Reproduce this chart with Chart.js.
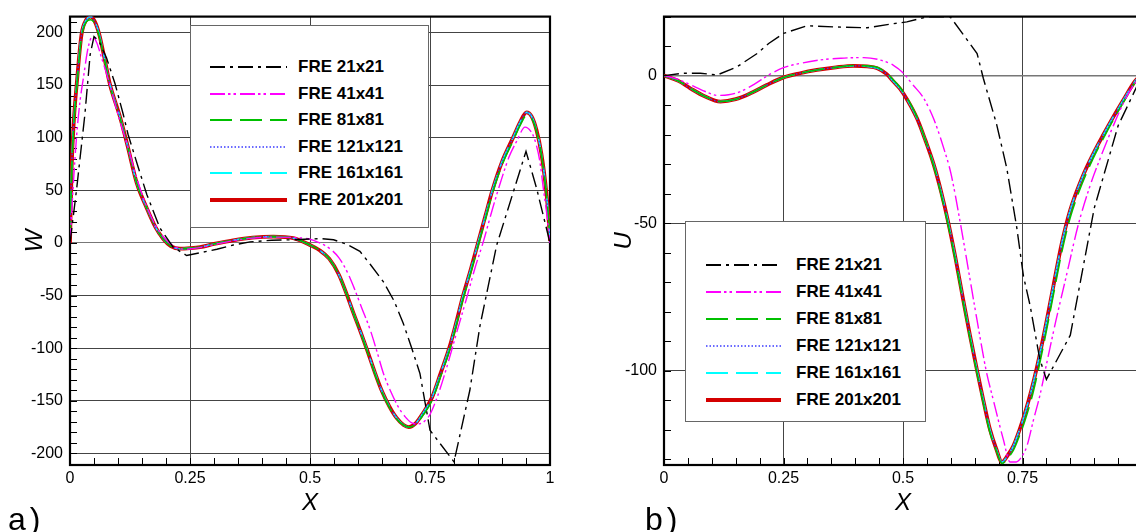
<!DOCTYPE html>
<html>
<head>
<meta charset="utf-8">
<script src="https://cdn.jsdelivr.net/npm/chart.js@4.4.1/dist/chart.umd.min.js"></script>
<style>
  body { margin: 0; width: 1136px; height: 532px; overflow: hidden; background: #fff; position: relative;
         font-family: "Liberation Sans", Arial, sans-serif; }
  canvas { position: absolute; top: 0; }
  #chartA { left: 0; }
  #chartB { left: 580px; }
  .legend { position: absolute; background: #fff; border: 1px solid #666; box-sizing: border-box; }
  .legend span { position: absolute; font-weight: bold; font-size: 17px; line-height: 20px; white-space: nowrap; color: #000; }
  .legend svg { position: absolute; }
  .tag { position: absolute; font-size: 32px; line-height: 32px; letter-spacing: 4px; color: #000; }
</style>
</head>
<body>
<canvas id="chartA" width="560" height="532"></canvas>
<canvas id="chartB" width="580" height="532"></canvas>
<div class="legend" id="legendA" style="left:190px;top:25px;width:239px;height:203px"></div>
<div class="legend" id="legendB" style="left:685px;top:221px;width:241px;height:201px"></div>
<div class="tag" style="left:8px;top:503px">a)</div>
<div class="tag" style="left:645px;top:503px">b)</div>
<script>
// === Series labels and styles ===
const seriesLabels = ["FRE 21x21", "FRE 41x41", "FRE 81x81", "FRE 121x121", "FRE 161x161", "FRE 201x201"];
const seriesColors = ["#000000", "#ff00ff", "#00c000", "#3a3aff", "#00ffff", "#d40000"];
const seriesWidths = [1.4, 1.4, 1.6, 1.3, 1.6, 3.8];
const seriesDashes = [[15, 5, 3, 5], [15, 3, 2.5, 3, 2.5, 4], [22, 8], [1.5, 2], [22, 8], []];

// === Tick values ===
const xTicks = [0, 0.25, 0.5, 0.75, 1];
const aYTicks = [-200, -150, -100, -50, 0, 50, 100, 150, 200];
const bYTicks = [-100, -50, 0];

// === Panel a) : W along x ===
const aX21 = [0, 0.014, 0.031, 0.042, 0.05, 0.06, 0.076, 0.094, 0.111, 0.121, 0.14, 0.16, 0.1875, 0.215, 0.243, 0.275,
  0.306, 0.34, 0.375, 0.42, 0.465, 0.5, 0.525, 0.549, 0.575, 0.604, 0.625, 0.653, 0.675, 0.694, 0.712, 0.729, 0.75,
  0.8, 0.833, 0.854, 0.889, 0.924, 0.95, 0.972, 1];
const aW21 = [0, 52, 122, 179, 196, 192, 176, 151, 122, 103, 75, 46, 14, -4, -12, -9,
  -6, -2, 1, 2.5, 3, 3.8, 4, 3, -1, -8, -20, -37, -55, -76, -100, -124, -178,
  -208, -140, -79, -2, 49, 87, 52, 0];

const aX41 = [0, 0.007, 0.014, 0.021, 0.028, 0.038, 0.047, 0.056, 0.065, 0.08, 0.1, 0.12, 0.14, 0.16, 0.18, 0.2,
  0.22, 0.24, 0.27, 0.3, 0.34, 0.38, 0.43, 0.47, 0.5, 0.52, 0.54, 0.56, 0.578, 0.593, 0.608, 0.625, 0.64, 0.653,
  0.668, 0.683, 0.698, 0.712, 0.724, 0.737, 0.75, 0.767, 0.785, 0.805, 0.826, 0.843, 0.861, 0.88, 0.9, 0.915,
  0.931, 0.948, 0.96, 0.969, 0.979, 0.986, 0.994, 1];
const aW41 = [0, 56, 103, 135, 157, 186, 196, 190, 177, 155, 122, 92, 60, 34, 15, 3,
  -4, -6, -4.5, -1.5, 2, 4.5, 5.5, 5, 3.5, 0, -5, -14, -28, -44, -62, -82, -104, -124,
  -141, -155, -165, -171, -172, -170, -163, -144, -118, -86, -53, -25, 1, 32, 62, 82,
  97, 110, 106, 97, 77, 52, 25, 0];

const aX201 = [0, 0.0035, 0.008, 0.014, 0.024, 0.034, 0.043, 0.052, 0.061, 0.072, 0.083, 0.104, 0.12, 0.139, 0.16,
  0.178, 0.194, 0.21, 0.229, 0.25, 0.271, 0.3, 0.34, 0.38, 0.424, 0.465, 0.5, 0.52, 0.54, 0.56, 0.575, 0.59, 0.605,
  0.62, 0.635, 0.65, 0.665, 0.68, 0.695, 0.706, 0.72, 0.735, 0.754, 0.772, 0.79, 0.805, 0.819, 0.835, 0.85, 0.865,
  0.88, 0.9, 0.923, 0.938, 0.951, 0.962, 0.972, 0.982, 0.99, 0.996, 1];
const aW201 = [0, 72, 116, 151, 198, 212, 215, 210, 198, 175, 151, 120, 92, 57, 33,
  15, 4, -3, -5.5, -5, -4, -1, 2.5, 5, 6, 4.5, -2, -7, -15, -30, -47, -66, -84,
  -103, -123, -141, -155, -166, -173, -175, -171.5, -162, -147, -124, -100, -75, -50, -25, 0, 25,
  50, 77, 100, 115, 124, 120, 107, 85, 58, 30, 2];
const aW81 = [0, 68, 112, 148, 195, 210, 212, 208, 196, 174, 150, 119, 92, 57, 33,
  15, 4, -3, -5.5, -5, -4, -1, 2.5, 5, 6, 4.5, -2, -7, -15, -30, -47, -66, -85,
  -104, -124, -142, -156, -167, -173, -175, -172.5, -164, -150, -127, -103, -78, -53, -28, -3, 22,
  47, 74, 97, 112, 121, 118, 106, 84, 57, 29, 2];
// 121x121 and 161x161 lie under the 201x201 curve
const aW121 = aW201;
const aW161 = aW201;

// === Panel b) : U along x ===
const bX21 = [0, 0.041, 0.076, 0.111, 0.153, 0.195, 0.219, 0.25, 0.299, 0.355, 0.425, 0.48, 0.508, 0.55, 0.599,
  0.627, 0.655, 0.668, 0.696, 0.717, 0.738, 0.752, 0.766, 0.776, 0.786, 0.8, 0.85, 0.9, 0.95, 1];
const bU21 = [0, 0.8, 0.8, 0.2, 3, 7.5, 10.9, 14.3, 16.9, 16.5, 16.2, 17.6, 18.2, 19.9, 19.9,
  13.7, 7.5, -0.9, -16.6, -31.3, -51.5, -68, -78, -87, -96, -103, -88, -45, -17, 0];

const bX41 = [0, 0.03, 0.055, 0.085, 0.111, 0.135, 0.16, 0.19, 0.219, 0.25, 0.29, 0.327, 0.37, 0.418, 0.452,
  0.48, 0.501, 0.52, 0.543, 0.565, 0.585, 0.6, 0.62, 0.637, 0.655, 0.674, 0.689, 0.71, 0.724, 0.737, 0.749,
  0.759, 0.773, 0.787, 0.8, 0.82, 0.843, 0.866, 0.89, 0.915, 0.94, 0.962, 0.985, 1];
const bU41 = [0, -1.3, -3.1, -5.3, -6.7, -6.5, -5.4, -2.8, 0.2, 2.7, 4.3, 5.3, 5.9, 6.1, 5.3,
  3.5, 0.8, -3, -7.6, -15, -24.5, -33, -50, -66, -83, -100, -110, -123.4, -131, -131, -129,
  -125.7, -116.7, -108, -98, -83, -67, -51, -38, -27, -17, -9, -2.6, 0];

const bX201 = [0, 0.03, 0.055, 0.085, 0.118, 0.15, 0.181, 0.215, 0.249, 0.285, 0.32, 0.36, 0.396, 0.425, 0.446,
  0.466, 0.48, 0.494, 0.51, 0.529, 0.547, 0.564, 0.58, 0.595, 0.61, 0.626, 0.64, 0.655, 0.668, 0.682, 0.695,
  0.707, 0.72, 0.731, 0.745, 0.755, 0.768, 0.78, 0.797, 0.815, 0.832, 0.85, 0.875, 0.898, 0.92, 0.94, 0.962,
  0.985, 1];
const bU201 = [0, -1.8, -4.3, -7, -8.8, -8, -6, -3.2, -0.7, 0.8, 1.9, 2.8, 3.3, 3.1, 2.5,
  0.5, -2, -4.5, -8.5, -14.4, -22, -30, -39.5, -50, -62, -76, -88, -100, -110, -120, -126.5,
  -131, -128.5, -125.5, -119.5, -114.5, -107, -99, -86, -71, -57, -45.5, -34.5, -26.5, -19.8, -14, -8,
  -2, 0.5];
const bU81 = [0, -1.8, -4.3, -7, -8.8, -8, -6, -3.2, -0.7, 0.8, 1.9, 2.8, 3.4, 3.3, 2.8,
  0.8, -1.5, -4, -8, -14, -22, -30.5, -40.5, -51, -63, -77, -89, -101, -111, -121, -127,
  -131.5, -129.5, -127, -121.5, -117, -110, -102, -89, -74, -60, -48, -36.5, -28, -21, -15, -8.8,
  -2.5, 0];
const bU121 = bU201;
const bU161 = bU201;

// axis ranges
const aYMin = -211, aYMax = 215;
const bYMin = -132, bYMax = 20;

Chart.defaults.font.family = "'Liberation Sans', Arial, sans-serif";
Chart.defaults.color = "#000";

function zip(xs, ys) {
    return xs.map((x, i) => ({ x: x, y: ys[i] }));
}

function makeDatasets(pairs) {
    return pairs.map((p, i) => ({
        label: seriesLabels[i],
        data: zip(p[0], p[1]),
        borderColor: seriesColors[i],
        borderWidth: seriesWidths[i],
        borderDash: seriesDashes[i],
        pointRadius: 0,
        fill: false,
        tension: 0,
        cubicInterpolationMode: i === 0 ? "default" : "monotone"
    }));
}

// frame round the plot plus small inward ticks
const framePlugin = {
    id: "frame",
    beforeDatasetsDraw(chart, args, o) {
        const { ctx, chartArea: a, scales: { x, y } } = chart;
        ctx.save();
        ctx.strokeStyle = "#000";
        ctx.lineWidth = 1;
        ctx.beginPath();
        const y0 = Math.ceil(y.min / o.yStep);
        for (let i = y0; i * o.yStep <= y.max; i++) {
            const py = Math.round(y.getPixelForValue(i * o.yStep)) + 0.5;
            ctx.moveTo(a.left, py);
            ctx.lineTo(a.left + o.len, py);
        }
        for (let i = 0; i * o.xStep <= x.max + 1e-9; i++) {
            const px = Math.round(x.getPixelForValue(i * o.xStep)) + 0.5;
            ctx.moveTo(px, a.bottom);
            ctx.lineTo(px, a.bottom - o.len);
        }
        ctx.stroke();
        ctx.lineWidth = 2.2;
        ctx.strokeRect(a.left, a.top, a.right - a.left, a.bottom - a.top);
        ctx.restore();
    }
};

function makeChart(canvasId, datasets, cfg) {
    return new Chart(document.getElementById(canvasId), {
        type: "line",
        data: { datasets: datasets },
        plugins: [framePlugin],
        options: {
            responsive: false,
            animation: false,
            events: [],
            layout: { padding: { top: 15, right: cfg.padRight, left: 0, bottom: 0 } },
            plugins: {
                legend: { display: false },
                tooltip: { enabled: false },
                frame: { xStep: 0.05, yStep: 10, len: 7 }
            },
            scales: {
                x: {
                    type: "linear",
                    min: 0,
                    max: 1,
                    afterFit: s => { s.height = 67; },
                    afterBuildTicks: s => { s.ticks = xTicks.map(v => ({ value: v })); },
                    ticks: { padding: 4, font: { size: 16 }, color: "#000", maxRotation: 0, autoSkip: false,
                             callback: v => String(v) },
                    grid: { color: "#444", lineWidth: 1, drawTicks: false },
                    border: { display: false },
                    title: { display: true, text: "X", font: { size: 24, style: "italic" }, padding: { top: 0, bottom: 14.6 } }
                },
                y: {
                    min: cfg.yMin,
                    max: cfg.yMax,
                    afterFit: s => { s.width = cfg.yWidth; },
                    afterBuildTicks: s => { s.ticks = cfg.yTicks.map(v => ({ value: v })); },
                    ticks: { padding: 7, font: { size: 16 }, color: "#000", autoSkip: false, callback: v => String(v) },
                    grid: {
                        color: c => (c.tick && c.tick.value === 0 ? "#777" : "#444"),
                        lineWidth: c => (c.tick && c.tick.value === 0 ? cfg.zeroWidth : 1),
                        drawTicks: false
                    },
                    border: { display: false },
                    title: { display: true, text: cfg.yTitle, font: { size: 24, style: "italic" }, padding: { top: cfg.titlePad, bottom: 0 } }
                }
            }
        }
    });
}

makeChart("chartA", makeDatasets([
    [aX21, aW21], [aX41, aW41], [aX201, aW81], [aX201, aW121], [aX201, aW161], [aX201, aW201]
]), { yMin: aYMin, yMax: aYMax, yTicks: aYTicks, yWidth: 70, padRight: 10, yTitle: "W", titlePad: 20.6, zeroWidth: 1 });

makeChart("chartB", makeDatasets([
    [bX21, bU21], [bX41, bU41], [bX201, bU81], [bX201, bU121], [bX201, bU161], [bX201, bU201]
]), { yMin: bYMin, yMax: bYMax, yTicks: bYTicks, yWidth: 84, padRight: 18, yTitle: "U", titlePad: 29.6, zeroWidth: 1.6 });

// legends inside white boxes
function buildLegend(id, rowTop, rowGap, lineLeft, lineLen, textLeft) {
    const box = document.getElementById(id);
    seriesLabels.forEach((label, i) => {
        const cy = rowTop + i * rowGap;
        const dash = seriesDashes[i].length ? seriesDashes[i].join(" ") : "none";
        box.insertAdjacentHTML("beforeend",
            `<svg style="left:${lineLeft}px;top:${cy - 5}px" width="${lineLen}" height="10">` +
            `<line x1="0" y1="5" x2="${lineLen}" y2="5" stroke="${seriesColors[i]}" ` +
            `stroke-width="${seriesWidths[i] + 0.4}" stroke-dasharray="${dash}"/></svg>` +
            `<span style="left:${textLeft}px;top:${cy - 10}px">${label}</span>`);
    });
}

buildLegend("legendA", 41, 26.5, 19, 77, 107);
buildLegend("legendB", 42.5, 27, 20, 75, 110);
</script>
</body>
</html>
